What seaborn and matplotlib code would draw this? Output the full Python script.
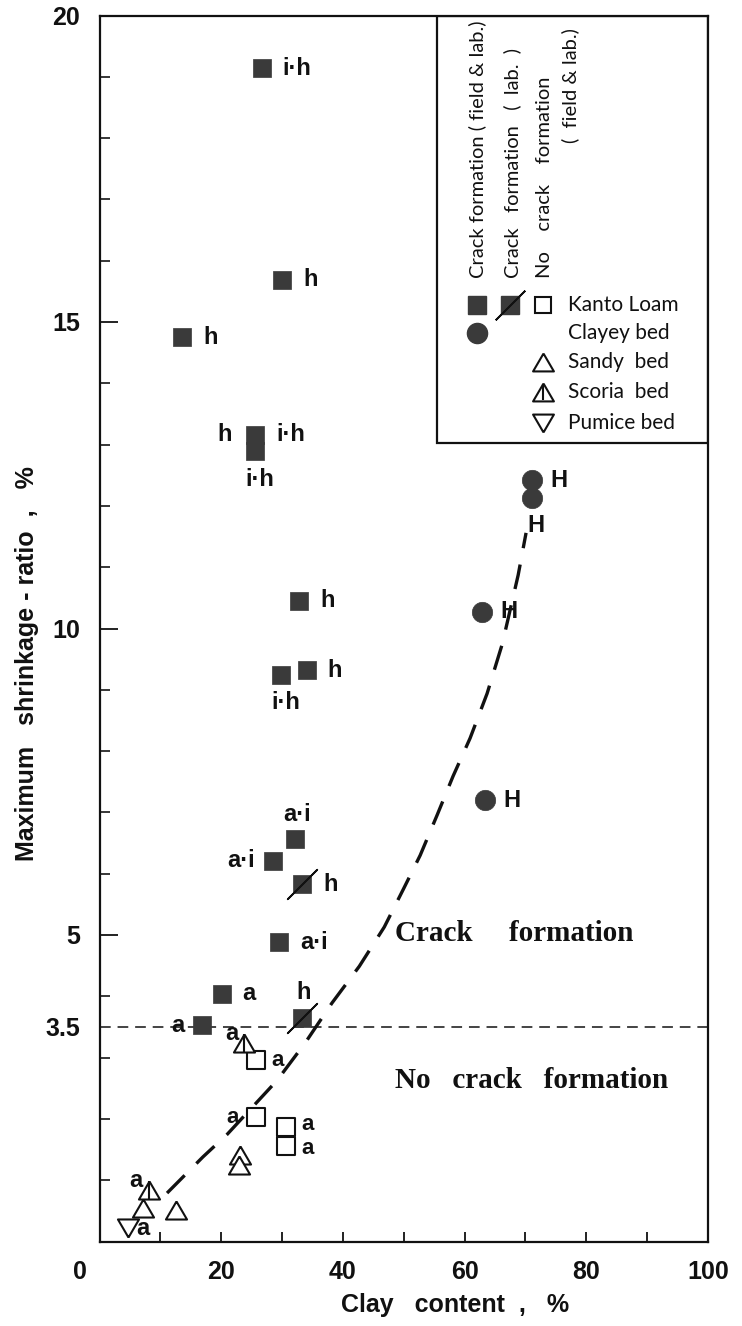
import logging
import matplotlib
matplotlib.use("Agg")
import matplotlib.pyplot as plt
import seaborn as sns
import pandas as pd
from matplotlib.patches import Rectangle
from matplotlib.transforms import ScaledTranslation

logging.getLogger("matplotlib.font_manager").setLevel(logging.ERROR)

# ---------------- data ----------------
# Crack formation (field & lab.) - Kanto Loam (filled squares)
field_x = [26.7, 30.0, 13.6, 25.6, 25.6, 32.8, 29.9, 34.1, 32.2, 28.5, 29.5, 20.1, 16.9]
field_y = [19.14, 15.69, 14.75, 13.16, 12.89, 10.45, 9.24, 9.32, 6.56, 6.21, 4.88, 4.04, 3.53]
field_lbl = ["i·h", "h", "h", "h|i·h", "i·h", "h", "i·h", "h", "a·i", "a·i", "a·i", "a", "a"]
field_pos = ["r", "r", "r", "lr", "b", "r", "b", "r", "t", "l", "r", "r", "l"]

# Crack formation (lab.) - Kanto Loam (slashed squares)
lab_x = [33.3, 33.3]
lab_y = [5.83, 3.65]
lab_lbl = ["h", "h"]
lab_pos = ["r", "t"]

# Crack formation (field & lab.) - Clayey bed (filled circles)
clay_x = [71.1, 71.1, 62.9, 63.4]
clay_y = [12.42, 12.13, 10.27, 7.20]
clay_lbl = ["H", "H", "H", "H"]
clay_pos = ["r", "b", "r", "r"]

# No crack formation - Kanto Loam (open squares)
kanto_x = [25.7, 25.7, 30.7, 30.7]
kanto_y = [2.96, 2.03, 1.87, 1.56]
kanto_lbl = ["a", "a", "a", "a"]
kanto_pos = ["r", "l", "ru", "rd"]

# No crack formation - Sandy bed
sandy_x = [23.1, 22.9, 7.2, 12.6]
sandy_y = [1.41, 1.25, 0.54, 0.51]

# No crack formation - Scoria bed
scoria_x = [8.1, 23.8]
scoria_y = [0.84, 3.24]
scoria_lbl = ["a", "a"]
scoria_pos = ["tl", "tl"]

# No crack formation - Pumice bed
pumice_x = [4.7]
pumice_y = [0.22]
pumice_lbl = ["a"]
pumice_pos = ["r"]

# boundary curve (dashed)
curve_x = [11.1, 12.1, 17.0, 21.0, 29.2, 33.8, 38.2, 42.7, 46.8, 50.0, 52.7,
           55.5, 58.1, 60.9, 63.7, 66.2, 68.8, 70.1]
curve_y = [0.79, 0.89, 1.38, 1.75, 2.63, 3.24, 3.89, 4.49, 5.13, 5.76, 6.30,
           6.96, 7.59, 8.21, 8.94, 9.75, 10.87, 11.56]

threshold = 3.5

x_ticks = [0, 20, 40, 60, 80, 100]
y_ticks = [3.5, 5, 10, 15, 20]
y_ticklabels = ["3.5", "5", "10", "15", "20"]

# ---------------- style ----------------
sns.set_style("ticks")
COND = ["Liberation Sans", "DejaVu Sans"]
plt.rcParams["font.family"] = COND
LEG = ["Lato", "DejaVu Sans"]
SERIF = ["Liberation Serif", "DejaVu Serif"]
INK = "#111111"
FILL = "#3a3a3a"

fig = plt.figure(figsize=(7.42, 13.26), dpi=100)
ax = fig.add_axes([99.5 / 742, 1 - 1241.5 / 1326, 608.5 / 742, 1226 / 1326])
ax.set_xlim(0, 100)
ax.set_ylim(0, 20)

tri_up = [(0, 0.6), (-0.7, -0.6), (0.7, -0.6), (0, 0.6)]
tri_dn = [(0, -0.6), (-0.7, 0.6), (0.7, 0.6), (0, -0.6)]

# reference lines
ax.axhline(threshold, color=INK, lw=1.1, ls=(0, (7, 4.5)), zorder=1)
sns.lineplot(x=curve_x, y=curve_y, ax=ax, color=INK, lw=2.4,
             linestyle=(0, (7.5, 5)), sort=False, zorder=2)

# markers
sns.scatterplot(x=field_x, y=field_y, ax=ax, marker="s", s=185, color=FILL,
                edgecolor=FILL, linewidth=0.5, zorder=4)
sns.scatterplot(x=lab_x, y=lab_y, ax=ax, marker="s", s=185, color=FILL,
                edgecolor=FILL, linewidth=0.5, zorder=4)
sns.scatterplot(x=lab_x, y=lab_y, ax=ax, marker=(2, 2, -45), s=900,
                color=INK, linewidth=1.3, zorder=5)
sns.scatterplot(x=clay_x, y=clay_y, ax=ax, marker="o", s=215, color=FILL,
                edgecolor=FILL, linewidth=0.5, zorder=4)
sns.scatterplot(x=kanto_x, y=kanto_y, ax=ax, marker="s", s=150, color="white",
                edgecolor=INK, linewidth=1.5, zorder=4)
sns.scatterplot(x=sandy_x, y=sandy_y, ax=ax, marker=tri_up, s=230, color="white",
                edgecolor=INK, linewidth=1.5, zorder=4)
sns.scatterplot(x=scoria_x, y=scoria_y, ax=ax, marker=tri_up, s=230, color="white",
                edgecolor=INK, linewidth=1.5, zorder=4)
sns.scatterplot(x=scoria_x, y=scoria_y, ax=ax, marker="|", s=150, color=INK,
                linewidth=1.5, zorder=5)
sns.scatterplot(x=pumice_x, y=pumice_y, ax=ax, marker=tri_dn, s=230, color="white",
                edgecolor=INK, linewidth=1.5, zorder=4)


def annotate(xs, ys, labels, poss, dr=15, dl=13, size=17):
    for x, y, t, p in zip(xs, ys, labels, poss):
        parts = t.split("|")
        if p == "lr":
            specs = [(parts[0], (-dl - 4, 0), "right"), (parts[1], (dr, 0), "left")]
        elif p == "r":
            specs = [(t, (dr, 0), "left")]
        elif p == "ru":
            specs = [(t, (dr, 2), "left")]
        elif p == "rd":
            specs = [(t, (dr, -2), "left")]
        elif p == "l":
            specs = [(t, (-dl, 0), "right")]
        elif p == "t":
            specs = [(t, (1, 18), "center")]
        elif p == "b":
            specs = [(t, (3, -20), "center")]
        else:  # top-left
            specs = [(t, (-9, 7), "center")]
        for txt, off, ha in specs:
            ax.annotate(txt, (x, y), xytext=off, textcoords="offset points",
                        ha=ha, va="center", fontsize=size, fontweight="bold",
                        color=INK, family=COND, zorder=6)


annotate(field_x, field_y, field_lbl, field_pos)
annotate(lab_x, lab_y, lab_lbl, lab_pos)
annotate(clay_x, clay_y, clay_lbl, clay_pos, dr=13)
annotate(kanto_x, kanto_y, kanto_lbl, kanto_pos, dr=11, dl=12, size=16)
annotate(scoria_x, scoria_y, scoria_lbl, scoria_pos)
annotate(pumice_x, pumice_y, pumice_lbl, pumice_pos, dr=6)

# region texts
ax.text(48.6, 5.03, "Crack     formation", fontsize=21, fontweight="bold",
        family=SERIF, ha="left", va="center", color=INK)
ax.text(48.6, 2.63, "No   crack   formation", fontsize=21, fontweight="bold",
        family=SERIF, ha="left", va="center", color=INK)

# ---------------- legend (drawn in axes fraction) ----------------
T = ax.transAxes
ax.add_patch(Rectangle((0.555, 0.651), 0.445, 0.349, transform=T, fill=False,
                       lw=1.6, edgecolor=INK, zorder=7))
lk = dict(transform=T, clip_on=False, zorder=8, ls="none")
ax.plot([0.620], [0.764], marker="s", ms=13, color=FILL, **lk)
ax.plot([0.675], [0.764], marker="s", ms=13, color=FILL, **lk)
ax.plot([0.675], [0.764], marker=(2, 2, -45), ms=30, mew=1.3, color=INK, **lk)
ax.plot([0.729], [0.764], marker="s", ms=12, mfc="white", mec=INK, mew=1.5, **lk)
ax.plot([0.620], [0.741], marker="o", ms=14.5, color=FILL, **lk)
ax.plot([0.729], [0.717], marker=tri_up, ms=15, mfc="white", mec=INK, mew=1.5, **lk)
ax.plot([0.729], [0.693], marker=tri_up, ms=15, mfc="white", mec=INK, mew=1.5, **lk)
ax.plot([0.729], [0.693], marker="|", ms=12, mec=INK, mew=1.5, **lk)
ax.plot([0.729], [0.668], marker=tri_dn, ms=15, mfc="white", mec=INK, mew=1.5, **lk)

lt = dict(transform=T, family=LEG, fontsize=15, color=INK, va="center", ha="left", zorder=8)
ax.text(0.770, 0.764, "Kanto Loam", **lt)
ax.text(0.770, 0.741, "Clayey bed", **lt)
ax.text(0.770, 0.717, "Sandy  bed", **lt)
ax.text(0.770, 0.693, "Scoria  bed", **lt)
ax.text(0.770, 0.668, "Pumice bed", **lt)

rt = dict(transform=T, family=LEG, fontsize=14.5, color=INK, rotation=90,
          ha="center", va="bottom", zorder=8)
ax.text(0.620, 0.786, "Crack formation ( field & lab.)", **rt)
ax.text(0.678, 0.786, "Crack   formation   (  lab.  )", **rt)
ax.text(0.732, 0.786, "No    crack    formation", **rt)
ax.text(0.773, 0.896, "(  field & lab.)", **rt)

# ---------------- axes ----------------
for s in ax.spines.values():
    s.set_linewidth(1.6)
    s.set_color(INK)

ax.set_xticks(x_ticks)
ax.set_xticklabels([str(v) for v in x_ticks])
ax.set_xticks([10, 30, 50, 70, 90], minor=True)
ax.set_yticks(y_ticks)
ax.set_yticklabels(y_ticklabels)
ax.set_yticks([1, 2, 3, 4, 6, 7, 8, 9, 11, 12, 13, 14, 16, 17, 18, 19], minor=True)
ax.tick_params(axis="x", which="both", direction="in", length=7, width=1.3,
               pad=13, labelsize=18, colors=INK)
ax.tick_params(axis="y", which="major", direction="in", length=13, width=1.3,
               pad=14, labelsize=18, colors=INK)
ax.tick_params(axis="y", which="minor", direction="in", length=7, width=1.3)
for lab in ax.get_xticklabels() + ax.get_yticklabels():
    lab.set_fontweight("bold")
ax.yaxis.get_major_ticks()[0].tick1line.set_visible(False)
ax.xaxis.get_major_ticks()[0].tick1line.set_visible(False)
ax.xaxis.get_major_ticks()[-1].tick1line.set_visible(False)
for lab in ax.get_xticklabels()[:1]:
    lab.set_transform(lab.get_transform() + ScaledTranslation(-0.2, 0, fig.dpi_scale_trans))

ax.set_xlabel("Clay   content  ,   %", fontsize=18, fontweight="bold", color=INK)
ax.set_ylabel("Maximum   shrinkage - ratio  ,   %", fontsize=18, fontweight="bold",
              color=INK)
ax.xaxis.set_label_coords(0.585, -0.042)
ax.yaxis.set_label_coords(-0.10, 0.471)

fig.savefig("out.png", dpi=100, facecolor="white")
